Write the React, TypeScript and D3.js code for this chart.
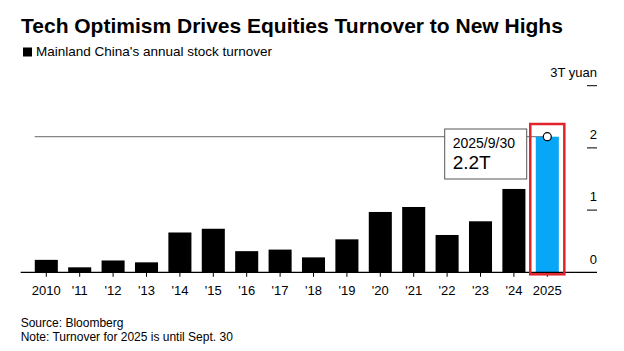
import React from "react";
import * as d3 from "d3";

const years = ["2010", "'11", "'12", "'13", "'14", "'15", "'16", "'17", "'18", "'19", "'20", "'21", "'22", "'23", "'24", "2025"];
const turnover = [0.2, 0.08, 0.19, 0.16, 0.64, 0.7, 0.34, 0.365, 0.24, 0.53, 0.97, 1.05, 0.6, 0.82, 1.34, 2.18];
const yTicks = [0, 1, 2, 3];
const yTickLabels = ["0", "1", "2", "3T yuan"];
const calloutDate = "2025/9/30";
const calloutValue = "2.2T";
const latestValue = 2.18;

const W = 624;
const H = 351;
const font = "'Liberation Sans', Arial, sans-serif";

const App: React.FC = () => {
  const x = d3
    .scaleBand<string>()
    .domain(years)
    .range([29.6, 564])
    .paddingInner(0.31)
    .paddingOuter(0.155);

  const y = d3.scaleLinear().domain([0, 3]).range([272.3, 85.7]);

  const last = years[years.length - 1];
  const lastX = x(last)! + x.bandwidth() / 2;

  return (
    <svg
      width={W}
      height={H}
      style={{ position: "absolute", left: 0, top: 0, background: "#fff" }}
      fontFamily={font}
    >
      <rect width={W} height={H} fill="#fff" />
      <text x={21} y={33} fontSize={21} fontWeight="bold" fill="#000">
        Tech Optimism Drives Equities Turnover to New Highs
      </text>
      <rect x={23} y={47.5} width={9} height={9} fill="#000" />
      <text x={36} y={56} fontSize={13.5} fill="#000">
        Mainland China's annual stock turnover
      </text>

      {/* y axis labels + dashes */}
      {yTicks.map((t, i) => (
        <g key={t}>
          <text x={597} y={y(t) - 8.7} fontSize={13} textAnchor="end" fill="#000">
            {yTickLabels[i]}
          </text>
          {t > 0 && <line x1={587} x2={597} y1={y(t)} y2={y(t)} stroke="#000" strokeWidth={1} />}
        </g>
      ))}

      {/* reference line at latest value */}
      <line x1={34.7} x2={lastX} y1={y(latestValue)} y2={y(latestValue)} stroke="#666" strokeWidth={1} />

      {/* bars */}
      {years.map((yr, i) => (
        <rect
          key={yr}
          x={x(yr)!}
          y={y(turnover[i])}
          width={x.bandwidth()}
          height={y(0) - y(turnover[i])}
          fill={yr === last ? "#08a6f6" : "#000"}
        />
      ))}

      {/* baseline + ticks */}
      <line x1={20.7} x2={597} y1={y(0)} y2={y(0)} stroke="#000" strokeWidth={1.2} />
      {years.map((yr) => {
        const cx = x(yr)! + x.bandwidth() / 2;
        return (
          <g key={yr}>
            <line x1={cx} x2={cx} y1={y(0)} y2={y(0) + 4.5} stroke="#000" strokeWidth={1} />
            <text x={cx} y={295} fontSize={13} textAnchor="middle" fill="#000">
              {yr}
            </text>
          </g>
        );
      })}

      {/* highlight rect */}
      <rect
        x={x(last)! - 5.5}
        y={124}
        width={x.bandwidth() + 11}
        height={y(0) + 2 - 124}
        fill="none"
        stroke="#e1232b"
        strokeWidth={2.5}
      />
      <circle cx={lastX} cy={y(latestValue)} r={4} fill="#fff" stroke="#000" strokeWidth={1.2} />

      {/* callout */}
      <rect x={444.7} y={129} width={82} height={50} fill="#fff" stroke="#555" strokeWidth={1} />
      <text x={452.7} y={148.3} fontSize={14} fill="#000">
        {calloutDate}
      </text>
      <text x={452.7} y={169} fontSize={19} fill="#000">
        {calloutValue}
      </text>

      {/* footer */}
      <text x={20.7} y={327} fontSize={12} fill="#000">
        Source: Bloomberg
      </text>
      <text x={20.7} y={340.5} fontSize={12} fill="#000">
        Note: Turnover for 2025 is until Sept. 30
      </text>
    </svg>
  );
};

export default App;
